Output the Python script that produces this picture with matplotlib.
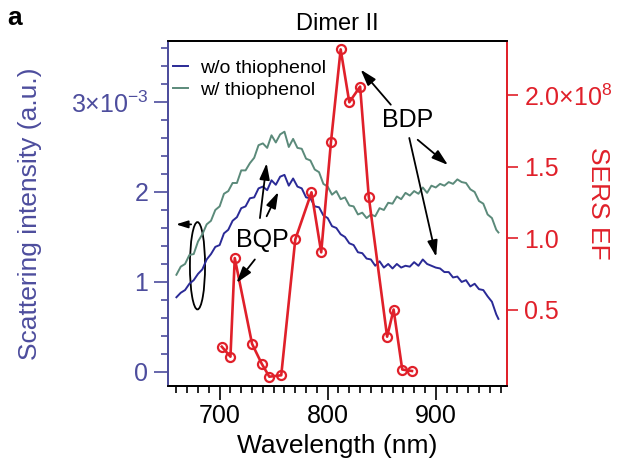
#!/usr/bin/env python3
"""Dimer II: dark-field scattering spectra with SERS enhancement factor overlay."""

import matplotlib

matplotlib.use("Agg")
import matplotlib.pyplot as plt
from matplotlib.patches import Ellipse
from matplotlib.ticker import FixedLocator, MultipleLocator

plt.rcParams["font.family"] = ["Liberation Sans", "DejaVu Sans"]
plt.rcParams["mathtext.fontset"] = "custom"
plt.rcParams["mathtext.rm"] = "Liberation Sans"
plt.rcParams["mathtext.it"] = "Liberation Sans:italic"

# scattering spectra (units of 1e-3)
WL_SCAT = [660, 664, 668, 672, 676, 680, 684, 688, 692, 696, 700, 704, 708, 712, 716,
           720, 724, 728, 732, 736, 740, 744, 748, 752, 756, 760, 764, 768, 772, 776,
           780, 784, 788, 792, 796, 800, 804, 808, 812, 816, 820, 824, 828, 832, 836,
           840, 844, 848, 852, 856, 860, 864, 868, 872, 876, 880, 884, 888, 892, 896,
           900, 904, 908, 912, 916, 920, 924, 928, 932, 936, 940, 944, 948, 952, 956, 958]
SCAT_WO = [0.83, 0.88, 0.91, 0.98, 1.02, 1.09, 1.14, 1.25, 1.31, 1.39, 1.41, 1.54, 1.58, 1.68, 1.72,
           1.82, 1.84, 1.93, 1.94, 2.04, 2.06, 2.02, 2.13, 2.08, 2.17, 2.19, 2.07, 2.15, 2.06, 2.04,
           1.94, 1.93, 1.84, 1.83, 1.74, 1.71, 1.62, 1.60, 1.53, 1.50, 1.43, 1.41, 1.33, 1.32, 1.26,
           1.25, 1.18, 1.23, 1.16, 1.20, 1.15, 1.20, 1.16, 1.18, 1.17, 1.22, 1.18, 1.25, 1.20, 1.18,
           1.16, 1.15, 1.11, 1.11, 1.05, 1.06, 1.00, 1.02, 0.95, 0.98, 0.92, 0.91, 0.84, 0.78, 0.64, 0.59]
SCAT_W = [1.08, 1.17, 1.20, 1.30, 1.31, 1.45, 1.53, 1.64, 1.68, 1.80, 1.84, 1.98, 2.01, 2.10, 2.10,
          2.24, 2.24, 2.32, 2.38, 2.52, 2.54, 2.49, 2.63, 2.55, 2.64, 2.67, 2.50, 2.59, 2.49, 2.48,
          2.37, 2.35, 2.25, 2.22, 2.09, 2.06, 1.97, 2.01, 1.92, 1.94, 1.85, 1.84, 1.75, 1.77, 1.71,
          1.75, 1.73, 1.82, 1.80, 1.88, 1.87, 1.95, 1.92, 1.99, 1.96, 2.01, 1.98, 2.05, 1.99, 2.07,
          2.05, 2.09, 2.07, 2.11, 2.09, 2.14, 2.11, 2.10, 2.03, 2.00, 1.90, 1.87, 1.75, 1.71, 1.58, 1.55]

# SERS enhancement factor (units of 1e8)
SERS_WL = [702, 710, 714, 730, 739, 746, 757, 770, 785, 794, 803, 812, 820, 830, 838, 855, 861, 869, 878]
SERS_EF = [0.24, 0.17, 0.86, 0.26, 0.12, 0.03, 0.04, 0.99, 1.32, 0.90, 1.67, 2.32, 1.95, 2.06, 1.29,
           0.31, 0.50, 0.08, 0.07]

LEFT_TICKS = [0, 1, 2, 3]
LEFT_LABELS = ["0", "1", "2", r"3×10$^{-3}$"]
RIGHT_TICKS = [0.5, 1.0, 1.5, 2.0]
RIGHT_LABELS = ["0.5", "1.0", "1.5", r"2.0×10$^{8}$"]

BLUE = "#2a2a96"
GREEN = "#5b8a7a"
RED = "#e0202a"
SLATE = "#4d4d9d"


def main() -> None:
    fig = plt.figure(figsize=(6.26, 4.69), dpi=100)
    ax = fig.add_axes([0.268, 0.177, 0.542, 0.736])
    ax2 = ax.twinx()

    ax.plot(WL_SCAT, SCAT_WO, color=BLUE, lw=1.4, label="w/o thiophenol")
    ax.plot(WL_SCAT, SCAT_W, color=GREEN, lw=1.4, label="w/ thiophenol")
    ax2.plot(SERS_WL, SERS_EF, color=RED, lw=1.9, marker="o", ms=6.5, mfc="none", mew=1.6)

    ax.set_xlim(652, 966)
    ax.set_ylim(-0.156, 3.68)
    ax2.set_ylim(-0.035, 2.38)

    ax.xaxis.set_major_locator(FixedLocator([700, 800, 900]))
    ax.xaxis.set_minor_locator(MultipleLocator(10))
    ax.yaxis.set_major_locator(FixedLocator(LEFT_TICKS))
    ax.set_yticklabels(LEFT_LABELS)
    ax.yaxis.set_minor_locator(MultipleLocator(0.2))
    ax2.yaxis.set_major_locator(FixedLocator(RIGHT_TICKS))
    ax2.set_yticklabels(RIGHT_LABELS)

    ax.tick_params(axis="x", which="major", direction="out", length=10, width=1.2, labelsize=18, pad=3)
    ax.tick_params(axis="x", which="minor", direction="out", length=5, width=1.2)
    ax.tick_params(axis="y", which="major", direction="out", length=10, width=1.2, labelsize=18,
                   colors=SLATE, pad=4)
    ax.tick_params(axis="y", which="minor", direction="out", length=5, width=1.2, colors=SLATE)
    ax2.tick_params(axis="y", which="major", direction="out", length=8, width=1.2, labelsize=18,
                    colors=RED, pad=4)

    for a in (ax, ax2):
        for s in a.spines.values():
            s.set_linewidth(1.3)
        a.spines["left"].set_color(SLATE)
        a.spines["right"].set_color(RED)

    ax.set_xlabel("Wavelength (nm)", fontsize=19, labelpad=4)
    ax.set_ylabel("Scattering intensity (a.u.)", fontsize=19, color=SLATE, va="center")
    ax.yaxis.set_label_coords(-0.405, 0.5)
    ax2.set_ylabel("SERS EF", fontsize=19, color=RED, rotation=270, va="center")
    ax2.yaxis.set_label_coords(1.268, 0.53)
    ax.set_title("Dimer II", fontsize=17, pad=8)
    fig.text(0.012, 0.962, "a", fontsize=19, fontweight="bold", va="center")

    ax.legend(loc="upper left", frameon=False, fontsize=14, handlelength=0.8, handletextpad=0.6,
              labelspacing=0.2, borderaxespad=0.3, bbox_to_anchor=(-0.025, 0.985))

    arrow = dict(arrowstyle="-|>,head_length=0.7,head_width=0.22", color="black", lw=1.3,
                 mutation_scale=14, shrinkA=0, shrinkB=0)
    # BQP arrows
    ax2.text(740, 1.47, "BQP", transform=ax.transData, fontsize=18, ha="center", va="center")
    for tail, head in [((737.3, 1.71), (743.5, 2.32)),
                       ((743.5, 1.73), (754.3, 2.00)),
                       ((732.6, 1.25), (715.6, 0.99))]:
        ax2.annotate("", xy=head, xytext=tail, xycoords=ax.transData, textcoords=ax.transData,
                     arrowprops=arrow)
    # BDP arrows
    ax2.text(874, 2.80, "BDP", transform=ax.transData, fontsize=18, ha="center", va="center")
    for tail, head in [((858.4, 2.97), (830.5, 3.36)),
                       ((883.3, 2.58), (911.3, 2.30)),
                       ((875.5, 2.60), (900.4, 1.28))]:
        ax2.annotate("", xy=head, xytext=tail, xycoords=ax.transData, textcoords=ax.transData,
                     arrowprops=arrow)

    # ellipse marking the left-axis curves
    ax.add_patch(Ellipse((679.5, 1.18), width=14, height=0.97, fill=False, lw=1.3, color="black"))
    small = dict(arrow, mutation_scale=10)
    ax.annotate("", xy=(659.6, 1.64), xytext=(673.6, 1.64), arrowprops=small)

    fig.savefig("out.png", dpi=100)
    plt.close(fig)


if __name__ == "__main__":
    main()
